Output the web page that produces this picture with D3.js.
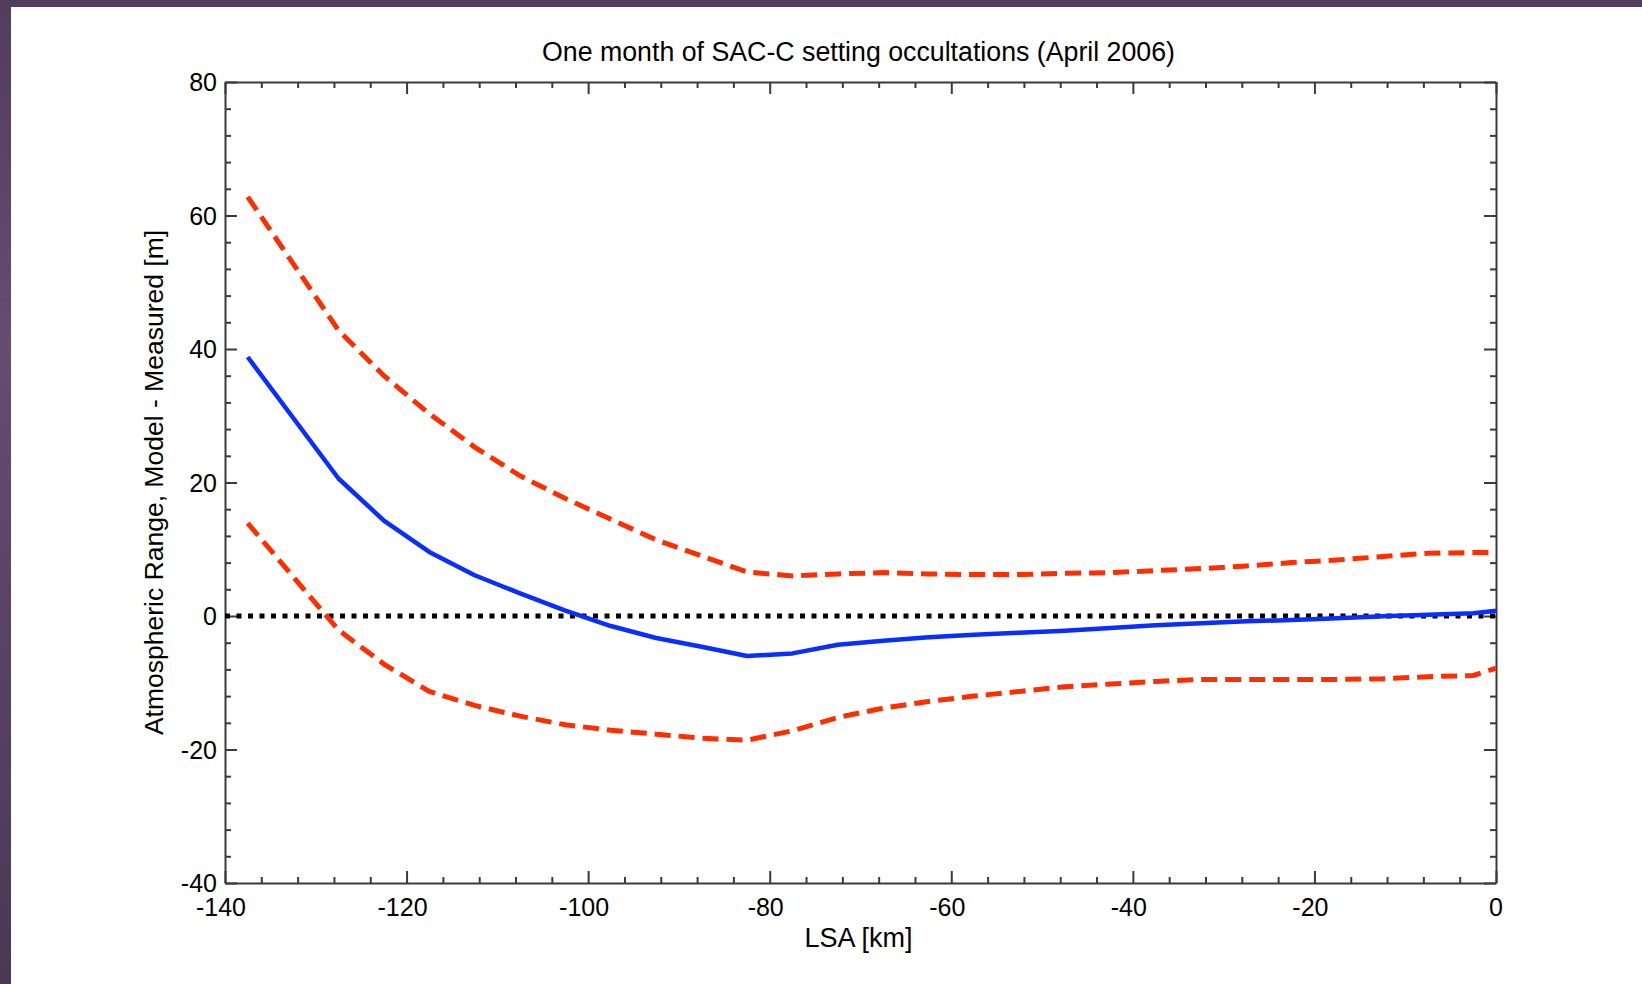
<!DOCTYPE html>
<html>
<head>
<meta charset="utf-8">
<script src="https://cdn.jsdelivr.net/npm/d3@7/dist/d3.min.js"></script>
<style>
  body { margin: 0; padding: 0; overflow: hidden; }
  text { font-family: "Liberation Sans", Arial, sans-serif; fill: #000; }
</style>
</head>
<body>
<div id="chart"></div>
<script>
// LSA bins (km) shared by all three curves
var lsa = [-137.5, -127.5, -122.5, -117.5, -112.5, -107.5, -102.5, -97.5, -92.5, -87.5,
  -82.5, -77.5, -72.5, -67.5, -62.5, -57.5, -52.5, -47.5, -42.5, -37.5,
  -32.5, -27.5, -22.5, -17.5, -12.5, -7.5, -2.5, 0];

// mean difference, model - measured (m)
var meanDiff = [38.8, 20.6, 14.3, 9.6, 6.1, 3.4, 0.8, -1.5, -3.3, -4.6,
  -6.0, -5.6, -4.3, -3.7, -3.2, -2.8, -2.5, -2.2, -1.8, -1.4,
  -1.1, -0.8, -0.6, -0.35, -0.05, 0.2, 0.4, 0.8];

// upper and lower spread curves (m)
var upperDiff = [62.8, 42.8, 36.0, 30.3, 25.3, 21.0, 17.6, 14.5, 11.4, 9.0,
  6.6, 6.0, 6.3, 6.5, 6.3, 6.2, 6.2, 6.4, 6.5, 6.8,
  7.1, 7.5, 8.0, 8.4, 8.9, 9.4, 9.5, 9.5];
var lowerDiff = [13.9, -2.1, -7.2, -11.3, -13.4, -15.0, -16.3, -17.1, -17.7, -18.3,
  -18.6, -17.2, -15.2, -13.8, -12.8, -12.0, -11.3, -10.6, -10.2, -9.8,
  -9.5, -9.5, -9.5, -9.5, -9.4, -9.1, -8.9, -7.8];

var xTicks = [-140, -120, -100, -80, -60, -40, -20, 0];
var yTicks = [-40, -20, 0, 20, 40, 60, 80];

// SVG area and plot box
var svgWidth = 1642;
var svgHeight = 984;
var margin = { top: 82, right: 146, bottom: 101, left: 225 };
var chartWidth = svgWidth - margin.left - margin.right;
var chartHeight = svgHeight - margin.top - margin.bottom;

var svg = d3.select("#chart")
  .append("svg")
  .attr("width", svgWidth)
  .attr("height", svgHeight);

// purple slide frame behind the white page
var grad = svg.append("defs").append("linearGradient")
  .attr("id", "frame")
  .attr("x1", 0).attr("y1", 0).attr("x2", 0).attr("y2", 1);
grad.append("stop").attr("offset", "0%").attr("stop-color", "#523d5c");
grad.append("stop").attr("offset", "35%").attr("stop-color", "#654c72");
grad.append("stop").attr("offset", "100%").attr("stop-color", "#4a3854");

svg.append("rect")
  .attr("width", svgWidth).attr("height", svgHeight)
  .attr("fill", "url(#frame)");
svg.append("rect")
  .attr("x", 11).attr("y", 7)
  .attr("width", svgWidth - 11).attr("height", svgHeight - 7)
  .attr("fill", "#fff");

var chartGroup = svg.append("g")
  .attr("transform", `translate(${margin.left}, ${margin.top})`);

// scales
var xLinearScale = d3.scaleLinear().domain([-140, 0]).range([0, chartWidth]);
var yLinearScale = d3.scaleLinear().domain([-40, 80]).range([chartHeight, 0]);

// minor ticks every 4 units, major ones every 20
var xMinor = d3.range(-140, 1, 4).filter(d => xTicks.indexOf(d) < 0);
var yMinor = d3.range(-40, 81, 4).filter(d => yTicks.indexOf(d) < 0);

function tickAxis(axis, scale, major, minor) {
  return axis(scale).tickValues(major.concat(minor))
    .tickSizeInner(0).tickSizeOuter(0).tickFormat("");
}

var axisColor = "#3a3a3a";

// inward ticks on all four sides
var sides = [
  { gen: d3.axisBottom, scale: xLinearScale, major: xTicks, minor: xMinor, tr: `translate(0, ${chartHeight})`, dir: -1, vert: true },
  { gen: d3.axisTop, scale: xLinearScale, major: xTicks, minor: xMinor, tr: "translate(0, 0)", dir: 1, vert: true },
  { gen: d3.axisLeft, scale: yLinearScale, major: yTicks, minor: yMinor, tr: "translate(0, 0)", dir: 1, vert: false },
  { gen: d3.axisRight, scale: yLinearScale, major: yTicks, minor: yMinor, tr: `translate(${chartWidth}, 0)`, dir: -1, vert: false }
];

sides.forEach(function(s) {
  var g = chartGroup.append("g")
    .attr("transform", s.tr)
    .call(tickAxis(s.gen, s.scale, s.major, s.minor));
  g.select(".domain").attr("stroke", axisColor).attr("stroke-width", 2);
  g.selectAll(".tick line")
    .attr("stroke", axisColor)
    .attr("stroke-width", 2)
    .attr(s.vert ? "y2" : "x2", d => s.dir * (s.major.indexOf(d) >= 0 ? 12 : 6))
    .attr(s.vert ? "x2" : "y2", 0);
});

// tick labels
chartGroup.selectAll(".xlabel")
  .data(xTicks)
  .enter()
  .append("text")
  .attr("x", d => xLinearScale(d) - (d < 0 ? 4 : 0))
  .attr("y", chartHeight + 33)
  .attr("text-anchor", "middle")
  .attr("font-size", "25px")
  .text(d => d);

chartGroup.selectAll(".ylabel")
  .data(yTicks)
  .enter()
  .append("text")
  .attr("x", -8)
  .attr("y", d => yLinearScale(d) + 9)
  .attr("text-anchor", "end")
  .attr("font-size", "25px")
  .text(d => d);

// zero reference line
chartGroup.append("line")
  .attr("x1", 0).attr("x2", chartWidth)
  .attr("y1", yLinearScale(0)).attr("y2", yLinearScale(0))
  .attr("stroke", "#000")
  .attr("stroke-width", 5)
  .attr("stroke-dasharray", "5,6.5");

// the curves
var line = d3.line()
  .x((d, i) => xLinearScale(lsa[i]))
  .y(d => yLinearScale(d));

chartGroup.append("path")
  .attr("d", line(upperDiff))
  .attr("fill", "none")
  .attr("stroke", "#ff2e00")
  .attr("stroke-width", 5)
  .attr("stroke-dasharray", "16,8");

chartGroup.append("path")
  .attr("d", line(lowerDiff))
  .attr("fill", "none")
  .attr("stroke", "#ff2e00")
  .attr("stroke-width", 5)
  .attr("stroke-dasharray", "16,8");

chartGroup.append("path")
  .attr("d", line(meanDiff))
  .attr("fill", "none")
  .attr("stroke", "#0a2eff")
  .attr("stroke-width", 4.5)
  .attr("stroke-linejoin", "round");

// title and axis titles
svg.append("text")
  .attr("x", margin.left + chartWidth / 2 - 2)
  .attr("y", 61)
  .attr("text-anchor", "middle")
  .attr("font-size", "27px")
  .attr("textLength", 633)
  .attr("lengthAdjust", "spacingAndGlyphs")
  .text("One month of SAC-C setting occultations (April 2006)");

svg.append("text")
  .attr("x", margin.left + chartWidth / 2 - 2)
  .attr("y", 947)
  .attr("text-anchor", "middle")
  .attr("font-size", "27px")
  .text("LSA [km]");

svg.append("text")
  .attr("transform", `translate(163, ${margin.top + chartHeight / 2}) rotate(-90)`)
  .attr("text-anchor", "middle")
  .attr("font-size", "26.5px")
  .text("Atmospheric Range, Model - Measured [m]");
</script>
</body>
</html>
